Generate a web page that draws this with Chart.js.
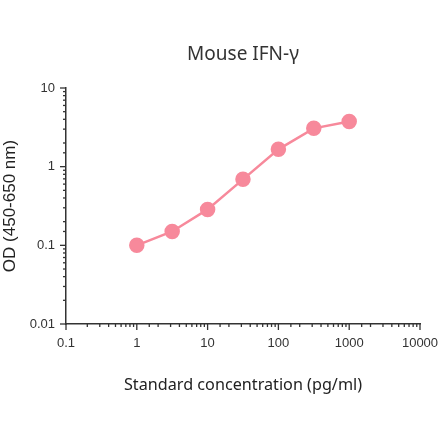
<!DOCTYPE html>
<html>
<head>
<meta charset="utf-8">
<script src="https://cdn.jsdelivr.net/npm/chart.js@4"></script>
<style>
  html, body { margin: 0; padding: 0; background: #fff; }
  #wrap { width: 440px; height: 441px; }
</style>
</head>
<body>
<div id="wrap"><canvas id="curve"></canvas></div>
<script>
// Standard curve readings
const concentrations = [1, 3.16, 10, 31.6, 100, 316, 1000];
const odValues = [0.10, 0.15, 0.286, 0.69, 1.66, 3.07, 3.74];
const xTickLabels = [0.1, 1, 10, 100, 1000, 10000];
const yTickLabels = [0.01, 0.1, 1, 10];

const pink = "#f7899b";
const axisColor = "#333333";

function isMajor(v) {
    const l = Math.log10(v);
    return Math.abs(l - Math.round(l)) < 1e-6;
}

function labelFor(list) {
    return function(value) {
        return list.some(t => Math.abs(t - value) / t < 1e-6) ? String(value) : "";
    };
}

// tick marks: long for decades, short for the rest
const tickMarks = {
    id: "tickMarks",
    afterDraw(chart) {
        const c = chart.ctx;
        const xs = chart.scales.x, ys = chart.scales.y;
        c.save();
        c.strokeStyle = axisColor;
        c.lineWidth = 1.3;
        xs.ticks.forEach(t => {
            const px = xs.getPixelForValue(t.value);
            const len = isMajor(t.value) ? 6 : 3;
            c.beginPath();
            c.moveTo(px, ys.bottom);
            c.lineTo(px, ys.bottom + len);
            c.stroke();
        });
        ys.ticks.forEach(t => {
            const py = ys.getPixelForValue(t.value);
            const len = isMajor(t.value) ? 6 : 3;
            c.beginPath();
            c.moveTo(xs.left, py);
            c.lineTo(xs.left - len, py);
            c.stroke();
        });
        c.restore();
    }
};

// title centred over the plot area
const plotTitle = {
    id: "plotTitle",
    afterDraw(chart) {
        const c = chart.ctx;
        const a = chart.chartArea;
        c.save();
        c.fillStyle = "#333333";
        c.font = "19px 'Noto Sans'";
        c.textAlign = "center";
        c.textBaseline = "middle";
        c.fillText("Mouse IFN-γ", (a.left + a.right) / 2, 55);
        c.restore();
    }
};

const ctx = document.getElementById("curve").getContext("2d");
new Chart(ctx, {
    type: "line",
    data: {
        datasets: [{
            data: concentrations.map((x, i) => ({ x: x, y: odValues[i] })),
            borderColor: pink,
            backgroundColor: pink,
            pointBackgroundColor: pink,
            pointBorderColor: pink,
            borderWidth: 2.5,
            pointRadius: 6.5,
            tension: 0
        }]
    },
    options: {
        responsive: true,
        maintainAspectRatio: false,
        animation: false,
        layout: { padding: { top: 88, right: 20, bottom: 40, left: 0 } },
        plugins: {
            legend: { display: false },
            tooltip: { enabled: false }
        },
        scales: {
            x: {
                type: "logarithmic",
                min: 0.1,
                max: 10000,
                afterFit: s => { s.height = 77; s.paddingRight = 0; s.paddingLeft = 0; },
                border: { color: axisColor, width: 1.5 },
                grid: { drawOnChartArea: false, drawTicks: false },
                ticks: {
                    autoSkip: false,
                    maxRotation: 0,
                    padding: 12,
                    color: axisColor,
                    font: { family: "'Liberation Sans', Arial, sans-serif", size: 13 },
                    callback: labelFor(xTickLabels)
                },
                title: {
                    display: true,
                    text: "Standard concentration (pg/ml)",
                    color: "#222222",
                    font: { family: "'Noto Sans'", size: 16.2 },
                    padding: { top: 0, bottom: 6 }
                }
            },
            y: {
                type: "logarithmic",
                min: 0.01,
                max: 10,
                afterFit: s => { s.width = 66; },
                border: { color: axisColor, width: 1.5 },
                grid: { drawOnChartArea: false, drawTicks: false },
                ticks: {
                    autoSkip: false,
                    padding: 11,
                    color: axisColor,
                    font: { family: "'Liberation Sans', Arial, sans-serif", size: 13 },
                    callback: labelFor(yTickLabels)
                },
                title: {
                    display: true,
                    text: "OD (450-650 nm)",
                    color: "#222222",
                    font: { family: "'Liberation Sans', Arial, sans-serif", size: 17 },
                    padding: { top: 0, bottom: 0 }
                }
            }
        }
    },
    plugins: [tickMarks, plotTitle]
});
</script>
</body>
</html>
